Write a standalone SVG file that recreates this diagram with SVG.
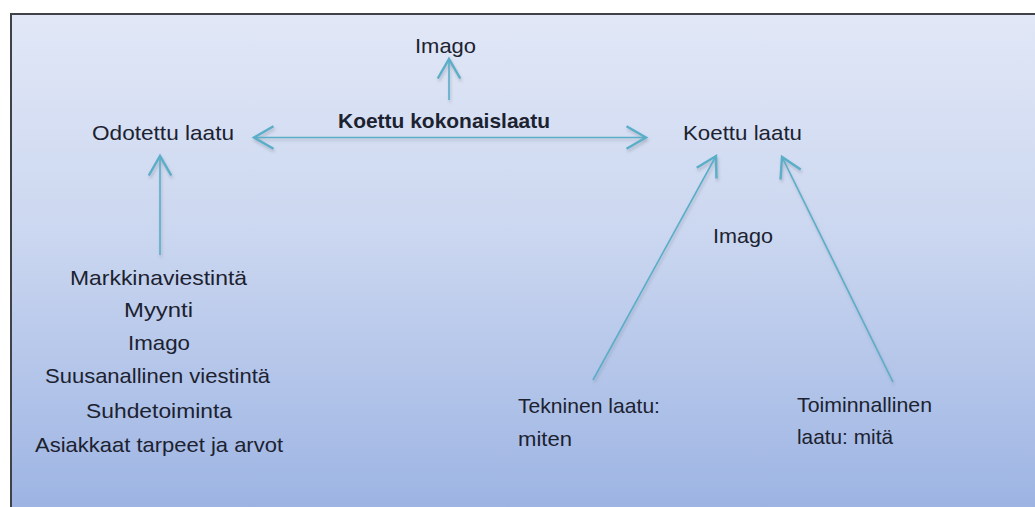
<svg xmlns="http://www.w3.org/2000/svg" width="1035" height="507" viewBox="0 0 1035 507">
  <defs>
    <linearGradient id="bg" x1="0" y1="13" x2="0" y2="507" gradientUnits="userSpaceOnUse">
      <stop offset="0" stop-color="#e1e7f6"/>
      <stop offset="0.45" stop-color="#cbd7f0"/>
      <stop offset="1" stop-color="#9db4e3"/>
    </linearGradient>
    <!-- user-space region so horizontal/vertical lines keep their shadow -->
    <filter id="shadow" filterUnits="userSpaceOnUse" x="0" y="0" width="1035" height="507">
      <feDropShadow dx="1" dy="2.5" stdDeviation="1.5" flood-color="#7a8296" flood-opacity="0.45"/>
    </filter>
    <marker id="head" markerUnits="userSpaceOnUse" markerWidth="30" markerHeight="30" refX="0" refY="0" viewBox="-16 -10 20 20" orient="auto-start-reverse" overflow="visible">
      <path d="M -13 -7.5 L 0 0 L -13 7.5" fill="none" stroke="#5aaec8" stroke-width="1.6" stroke-linejoin="miter"/>
    </marker>
    <style>
      .lbl { font-family: "Liberation Sans", Arial, sans-serif; font-size: 21px; fill: #1c2230; }
      .bold { font-weight: bold; }
      .conn { stroke: #5aaec8; stroke-width: 1.6; fill: none; marker-end: url(#head); filter: url(#shadow); }
      .both { marker-start: url(#head); }
    </style>
  </defs>

  <!-- page and framed panel -->
  <rect x="0" y="0" width="1035" height="507" fill="#ffffff"/>
  <rect x="11" y="14" width="1040" height="510" fill="url(#bg)" stroke="#3f4347" stroke-width="2"/>

  <!-- connectors -->
  <g id="connectors">
    <line class="conn both" x1="254" y1="137.5" x2="646" y2="137.5"/>
    <line class="conn" x1="449" y1="100" x2="449" y2="59"/>
    <line class="conn" x1="160" y1="255" x2="160" y2="156"/>
    <line class="conn" x1="593" y1="380" x2="716" y2="156"/>
    <line class="conn" x1="893" y1="382" x2="782" y2="157"/>
  </g>

  <!-- nodes -->
  <g id="node-imago-top">
    <text class="lbl" x="415" y="53" textLength="61" lengthAdjust="spacingAndGlyphs">Imago</text>
  </g>
  <g id="node-kokonaislaatu">
    <text class="lbl bold" x="338" y="128" textLength="212" lengthAdjust="spacingAndGlyphs">Koettu kokonaislaatu</text>
  </g>
  <g id="node-odotettu">
    <text class="lbl" x="92" y="140" textLength="142" lengthAdjust="spacingAndGlyphs">Odotettu laatu</text>
  </g>
  <g id="node-koettu">
    <text class="lbl" x="683" y="140" textLength="119" lengthAdjust="spacingAndGlyphs">Koettu laatu</text>
  </g>
  <g id="node-imago-mid">
    <text class="lbl" x="713" y="243" textLength="60" lengthAdjust="spacingAndGlyphs">Imago</text>
  </g>
  <g id="node-tekijat">
    <text class="lbl" x="70" y="285" textLength="177" lengthAdjust="spacingAndGlyphs">Markkinaviestintä</text>
    <text class="lbl" x="124" y="317" textLength="69" lengthAdjust="spacingAndGlyphs">Myynti</text>
    <text class="lbl" x="128" y="350" textLength="62" lengthAdjust="spacingAndGlyphs">Imago</text>
    <text class="lbl" x="45" y="383" textLength="225" lengthAdjust="spacingAndGlyphs">Suusanallinen viestintä</text>
    <text class="lbl" x="86" y="418" textLength="146" lengthAdjust="spacingAndGlyphs">Suhdetoiminta</text>
    <text class="lbl" x="35" y="452" textLength="248" lengthAdjust="spacingAndGlyphs">Asiakkaat tarpeet ja arvot</text>
  </g>
  <g id="node-tekninen">
    <text class="lbl" x="518" y="413" textLength="142" lengthAdjust="spacingAndGlyphs">Tekninen laatu:</text>
    <text class="lbl" x="518" y="446" textLength="54" lengthAdjust="spacingAndGlyphs">miten</text>
  </g>
  <g id="node-toiminnallinen">
    <text class="lbl" x="797" y="412" textLength="135" lengthAdjust="spacingAndGlyphs">Toiminnallinen</text>
    <text class="lbl" x="797" y="444" textLength="96" lengthAdjust="spacingAndGlyphs">laatu: mitä</text>
  </g>
</svg>
